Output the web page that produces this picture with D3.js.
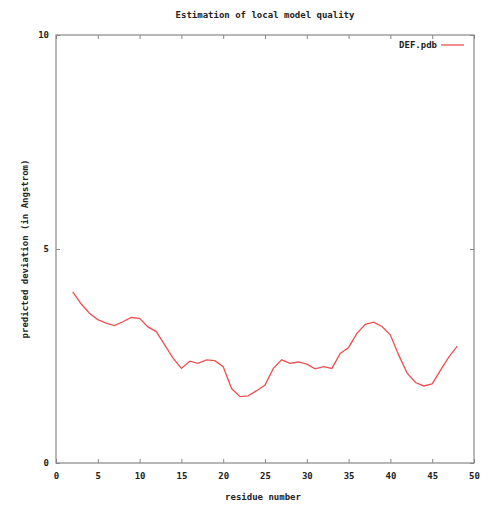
<!DOCTYPE html>
<html lang="en">
  <head>
    <meta charset="utf-8"/>
    <style>
      body {
        margin: 0;
        background: #fff;
      }
      text {
        font-family: "DejaVu Sans Mono", monospace;
        font-weight: bold;
        font-size: 9px;
        fill: #222;
      }
    </style>
    <script src="https://cdn.jsdelivr.net/npm/d3@7"></script>
  </head>
  <body>
    <script type="text/javascript">
      // data
      var residues = d3.range(2, 49);
      var deviation = [4.00, 3.72, 3.50, 3.35, 3.27, 3.21, 3.30, 3.40, 3.38, 3.18,
                       3.07, 2.76, 2.45, 2.21, 2.38, 2.33, 2.41, 2.39, 2.25, 1.74,
                       1.55, 1.57, 1.69, 1.82, 2.21, 2.41, 2.33, 2.36, 2.31, 2.20,
                       2.25, 2.21, 2.56, 2.70, 3.03, 3.24, 3.29, 3.19, 2.99, 2.52,
                       2.10, 1.88, 1.80, 1.85, 2.17, 2.48, 2.73];
      var xTicks = [0, 5, 10, 15, 20, 25, 30, 35, 40, 45, 50];
      var yTicks = [0, 5, 10];
      var seriesName = "DEF.pdb";

      var w = 489;
      var h = 506;
      // plot box (note: "top" is taken by window.top)
      var padL = 56, padR = 474, padT = 35, padB = 463;

      var svg = d3.select("body")
                  .append("svg")
                  .attr("width", w)
                  .attr("height", h);

      var xScale = d3.scaleLinear().domain([0, 50]).range([padL, padR]);
      var yScale = d3.scaleLinear().domain([0, 10]).range([padB, padT]);

      // ticks, gnuplot style (inward, mirrored)
      var tickLen = 4;
      var axisColor = "#888";

      var xAxisB = d3.axisBottom(xScale).tickValues(xTicks).tickSize(-tickLen).tickPadding(10).tickFormat(d3.format("d"));
      var xAxisT = d3.axisTop(xScale).tickValues(xTicks).tickSize(-tickLen).tickFormat("");
      var yAxisL = d3.axisLeft(yScale).tickValues(yTicks).tickSize(-tickLen).tickPadding(7).tickFormat(d3.format("d"));
      var yAxisR = d3.axisRight(yScale).tickValues(yTicks).tickSize(-tickLen).tickFormat("");

      function styleAxis(g) {
        g.select(".domain").remove();
        g.selectAll("line").attr("stroke", axisColor);
        g.selectAll("text").attr("font-family", null).attr("font-size", null).style("fill", "#222");
      }

      svg.append("g").attr("transform", "translate(0," + padB + ")").call(xAxisB).call(styleAxis);
      svg.append("g").attr("transform", "translate(0," + padT + ")").call(xAxisT).call(styleAxis);
      svg.append("g").attr("transform", "translate(" + padL + ",0)").call(yAxisL).call(styleAxis);
      svg.append("g").attr("transform", "translate(" + padR + ",0)").call(yAxisR).call(styleAxis);

      // border
      svg.append("rect")
         .attr("x", padL)
         .attr("y", padT)
         .attr("width", padR - padL)
         .attr("height", padB - padT)
         .attr("fill", "none")
         .attr("stroke", axisColor)
         .attr("stroke-width", 1.2);

      // the line
      var line = d3.line()
                   .x(function(d, i) { return xScale(residues[i]); })
                   .y(function(d) { return yScale(d); });

      svg.append("path")
         .datum(deviation)
         .attr("d", line)
         .attr("fill", "none")
         .attr("stroke", "#ee5050")
         .attr("stroke-width", 1.3);

      // legend
      svg.append("text")
         .attr("x", 437)
         .attr("y", 48)
         .attr("text-anchor", "end")
         .text(seriesName);
      svg.append("line")
         .attr("x1", 441)
         .attr("x2", 464)
         .attr("y1", 45)
         .attr("y2", 45)
         .attr("stroke", "#ee5050")
         .attr("stroke-width", 1.3);

      // title
      svg.append("text")
         .attr("x", 265)
         .attr("y", 18)
         .attr("text-anchor", "middle")
         .text("Estimation of local model quality");

      // x label
      svg.append("text")
         .attr("x", 263)
         .attr("y", 500)
         .attr("text-anchor", "middle")
         .text("residue number");

      // y label
      svg.append("text")
         .attr("transform", "translate(28," + 249 + ") rotate(-90)")
         .attr("text-anchor", "middle")
         .text("predicted deviation (in Angstrom)");
    </script>
  </body>
</html>
